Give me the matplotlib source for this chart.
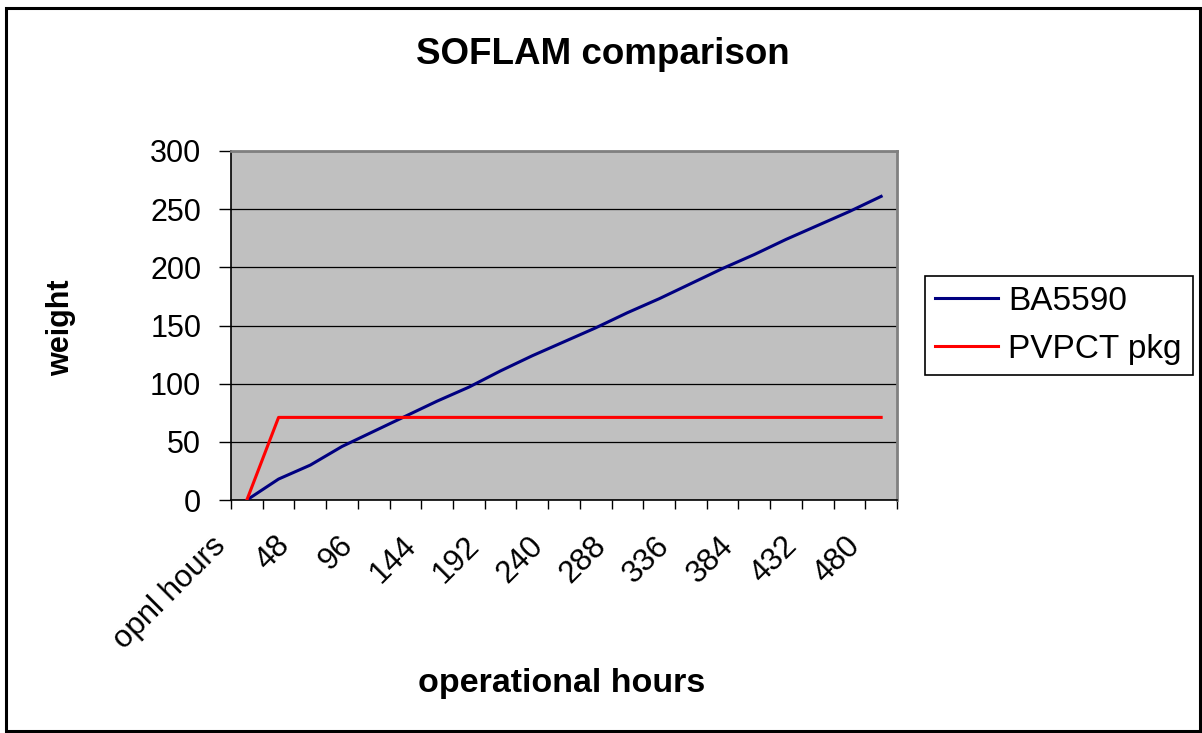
import matplotlib
matplotlib.use("Agg")
import matplotlib.pyplot as plt
import matplotlib.patches as patches
from matplotlib.transforms import ScaledTranslation
import numpy as np

plt.rcParams["font.family"] = ["Liberation Sans", "DejaVu Sans"]

# categories on the x axis (one every 24 operational hours)
categories = ["opnl hours", "24", "48", "72", "96", "120", "144", "168", "192",
              "216", "240", "264", "288", "312", "336", "360", "384", "408",
              "432", "456", "480"]
ba5590 = [0, 18, 30, 46, 59, 72, 85, 97, 111, 124, 136, 148, 161, 173, 186,
          199, 211, 224, 236, 248, 261]
pvpct_pkg = [0, 71, 71, 71, 71, 71, 71, 71, 71, 71, 71, 71, 71, 71, 71,
             71, 71, 71, 71, 71, 71]
y_ticks = [0, 50, 100, 150, 200, 250, 300]

W, H = 1202, 733
fig = plt.figure(figsize=(W / 100, H / 100), dpi=100)
fig.patch.set_facecolor("white")

# outer chart border
fig.patches.append(patches.Rectangle((6 / W, 2 / H), (1200 - 6) / W, (731 - 8) / H,
                                     transform=fig.transFigure, fill=False,
                                     edgecolor="black", linewidth=2.2))

ax = fig.add_axes([231 / W, 1 - 500 / H, (897 - 231) / W, (500 - 151) / H])
ax.set_facecolor("#C0C0C0")

x = np.arange(len(categories))
ax.plot(x, ba5590, color="#000080", lw=2.2, label="BA5590", zorder=3)
ax.plot(x, pvpct_pkg, color="#FF0000", lw=2.2, label="PVPCT pkg", zorder=4)

ax.set_xlim(-0.5, len(categories) - 0.5)
ax.set_ylim(0, 300)
ax.set_yticks(y_ticks)
ax.set_yticklabels([str(v) for v in y_ticks])
ax.yaxis.grid(True, color="black", lw=0.9)
ax.set_axisbelow(True)

# category boundary ticks, labels on every second category
ax.set_xticks(np.arange(len(categories) + 1) - 0.5)
ax.set_xticklabels([])
ax.set_xticks(x[::2], minor=True)
ax.set_xticklabels(categories[::2], minor=True)
ax.tick_params(axis="x", which="major", direction="out", length=6.7, width=1, color="black")
ax.tick_params(axis="x", which="minor", length=0, pad=22, labelsize=22.5, labelrotation=45)
ax.tick_params(axis="y", direction="out", length=8.5, width=1, pad=13, labelsize=22)
for lbl in ax.get_xticklabels(minor=True):
    lbl.set_ha("right")
    lbl.set_va("top")
    lbl.set_transform(lbl.get_transform() + ScaledTranslation(-15 / 100, 0, fig.dpi_scale_trans))

for side in ["left", "bottom"]:
    ax.spines[side].set_color("black")
    ax.spines[side].set_linewidth(1.2)
for side in ["top", "right"]:
    ax.spines[side].set_color("#808080")
    ax.spines[side].set_linewidth(2)

fig.text(603 / W, 1 - 64 / H, "SOFLAM comparison", ha="center", va="baseline",
         fontsize=26.5, fontweight="bold")
fig.text(562 / W, 1 - 692 / H, "operational hours", ha="center", va="baseline",
         fontsize=24.5, fontweight="bold")
fig.text(61 / W, 1 - 328 / H, "weight", ha="center", va="center", rotation=90,
         fontsize=22, fontweight="bold")

leg = fig.legend(loc="upper left", bbox_to_anchor=(925 / W, 1 - 372 / H, (1193 - 925) / W, (372 - 276) / H),
                 mode="expand", fontsize=24, frameon=True, fancybox=False,
                 edgecolor="black", framealpha=1, borderaxespad=0,
                 handlelength=1.9, handletextpad=0.3, labelspacing=0.5, borderpad=0.3)
leg.get_frame().set_linewidth(1.2)

fig.savefig("out.png", dpi=100)
